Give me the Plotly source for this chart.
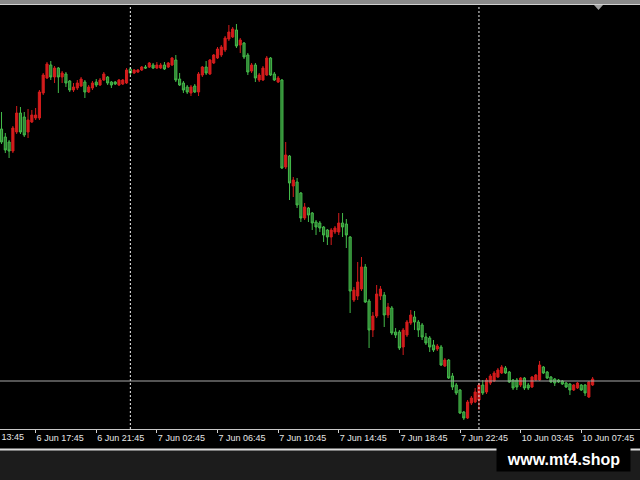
import plotly.graph_objects as go

# ---------------- data (XAUUSD, M15) ----------------
bar_index = list(range(157))

opens = [
    2367.75, 2365.75, 2364.5, 2362.25, 2367, 2371.75, 2370.75, 2367, 2369.5, 2370.5,
    2370.5, 2376.75, 2380.5, 2383.75, 2380.75, 2383, 2380.75, 2381.5, 2379.75, 2377.5,
    2378, 2378.5, 2379.5, 2377, 2378, 2379.5, 2378.75, 2380, 2380.75, 2379.5,
    2379.5, 2378.75, 2379, 2379.25, 2382.75, 2381.75, 2382, 2382.5, 2383.25, 2383.25,
    2383.75, 2383, 2383, 2383.75, 2383.25, 2383.75, 2385, 2380.25, 2379.25, 2378.25,
    2376.75, 2378.5, 2377, 2381.25, 2383.25, 2381.5, 2384.25, 2385.5, 2386.25, 2387.5,
    2390.25, 2390.75, 2392.5, 2388.75, 2389.25, 2386.25, 2382.25, 2383.75, 2380, 2380,
    2381.25, 2385.5, 2381.5, 2379.5, 2380, 2358.25, 2361, 2353.5, 2354.5, 2351.75,
    2345.5, 2348, 2346.75, 2344.5, 2344.25, 2343.25, 2342.5, 2340.75, 2342, 2342,
    2344.25, 2344, 2340.75, 2325, 2326, 2327.75, 2333.25, 2324.75, 2317.5, 2321,
    2326, 2326.25, 2321.25, 2323, 2317, 2317, 2313.25, 2316.25, 2319.25, 2320.75,
    2319.5, 2318.75, 2315.75, 2315.5, 2313.75, 2312.75, 2313.25, 2308.5, 2310, 2306,
    2303.75, 2302.5, 2297, 2295.5, 2299.25, 2299.5, 2300, 2303.75, 2302, 2304.25,
    2304.75, 2305.75, 2306.75, 2308, 2307, 2305, 2305, 2303.75, 2305.5, 2303.75,
    2303.25, 2305, 2305, 2308.25, 2307, 2305.75, 2305.25, 2305, 2304.75, 2304.25,
    2304, 2302.5, 2303, 2303.75, 2303.75, 2300.75, 2303.75,
]

highs = [
    2372, 2366.75, 2365, 2368.5, 2373.5, 2373.25, 2372, 2372.75, 2372.5, 2373,
    2377.5, 2381.75, 2384.5, 2384.75, 2383.5, 2383.25, 2382.25, 2382, 2380, 2379.25,
    2380, 2380.75, 2380, 2378.75, 2379.75, 2380.25, 2380.5, 2382, 2381, 2379.75,
    2379.75, 2380.25, 2380.25, 2383, 2383.25, 2382.75, 2382.75, 2383.5, 2383.75, 2384.5,
    2384.25, 2384.5, 2384.25, 2384.5, 2384.5, 2385.75, 2386.25, 2381.75, 2379.75, 2378.75,
    2378.75, 2379, 2382, 2383.5, 2384.75, 2385.25, 2386.5, 2388.25, 2388.75, 2391,
    2393.75, 2393.25, 2394, 2390.5, 2389.5, 2386.75, 2384.25, 2384.25, 2381.75, 2383.5,
    2386, 2385.75, 2382, 2381, 2380.25, 2364.5, 2361.25, 2355.75, 2355.5, 2352,
    2349.25, 2348.25, 2347, 2345, 2344.75, 2343.5, 2342.75, 2343, 2343.5, 2346.75,
    2346.75, 2345.25, 2341, 2328.25, 2334.5, 2335.75, 2334, 2325.25, 2322, 2328.75,
    2328.5, 2327, 2324.25, 2323.5, 2318, 2317.5, 2318, 2320, 2322.5, 2322.25,
    2320, 2319.25, 2316.75, 2316, 2315, 2314, 2313.75, 2310.5, 2310.25, 2306.75,
    2304.25, 2302.75, 2297.25, 2300, 2301, 2303, 2304.25, 2305, 2305.5, 2306.5,
    2307.25, 2308, 2308.75, 2308.5, 2307.25, 2305.25, 2305.5, 2305.75, 2305.75, 2304.25,
    2306, 2306.5, 2309.75, 2308.5, 2307.25, 2306, 2305.5, 2305.25, 2305, 2304.5,
    2304.25, 2304, 2304.5, 2304, 2304, 2304.75, 2305.75,
]

lows = [
    2364, 2361.75, 2360.5, 2361.75, 2366.5, 2366.5, 2365.75, 2365.5, 2369.25, 2370,
    2370, 2376.25, 2380.25, 2380, 2379.25, 2376.75, 2379.25, 2378.25, 2377, 2377,
    2377.5, 2378.25, 2375.5, 2376.75, 2377.5, 2378.25, 2378.5, 2379.75, 2378.75, 2378,
    2378.75, 2378.5, 2378.75, 2379, 2381.25, 2381.5, 2381.75, 2382.25, 2382.75, 2383,
    2382.75, 2382.75, 2382.75, 2382.5, 2383, 2383.5, 2379.5, 2378.5, 2376.75, 2376.5,
    2376, 2376.75, 2376, 2380.75, 2381.25, 2381.25, 2384, 2385.25, 2385.75, 2387,
    2389.75, 2390.5, 2388, 2386.75, 2385.25, 2381.25, 2381.75, 2379.5, 2379.5, 2379.75,
    2381, 2381, 2379.75, 2379.25, 2357.75, 2357.75, 2350, 2350.75, 2348, 2344.5,
    2345, 2344.5, 2342.5, 2341.25, 2342, 2339.5, 2338.75, 2338.75, 2341.5, 2341.25,
    2340.75, 2338, 2321.75, 2324.5, 2325, 2327.25, 2324.25, 2313, 2315.75, 2320.5,
    2325, 2318.25, 2320.5, 2316.25, 2315.5, 2312.5, 2311.25, 2315.75, 2318.75, 2317.5,
    2315.75, 2315, 2313.75, 2312, 2312, 2312.25, 2308.5, 2308.25, 2305.25, 2302.5,
    2301.25, 2296.5, 2295, 2295.25, 2298.75, 2299.25, 2297.5, 2301.25, 2301.5, 2303.75,
    2304.5, 2305.5, 2306.5, 2306.5, 2304.25, 2302.5, 2302.5, 2303.25, 2302.5, 2302.5,
    2303, 2304.75, 2304.75, 2306.5, 2305.25, 2304.25, 2303.5, 2304.25, 2303.75, 2303,
    2301.25, 2302.25, 2302.75, 2302.25, 2301, 2300.5, 2303.5,
]

closes = [
    2364.5, 2362.5, 2362.25, 2368, 2371.75, 2367, 2366.25, 2370, 2371.25, 2371.25,
    2377, 2381.25, 2384, 2380.75, 2383, 2380.75, 2381.75, 2379.25, 2377.5, 2378.25,
    2379.25, 2380.25, 2377, 2378.25, 2379.25, 2378.75, 2380, 2381.5, 2379.25, 2378.75,
    2379, 2380, 2380, 2382.5, 2381.75, 2382.5, 2382.5, 2383.25, 2383, 2384.25,
    2383, 2383.75, 2383.75, 2382.75, 2384.25, 2385.5, 2380, 2378.75, 2377.5, 2377,
    2378.25, 2377, 2381.5, 2383.25, 2381.75, 2385, 2386.25, 2387.75, 2388.25, 2390.5,
    2392, 2392.75, 2388.5, 2390, 2385.75, 2382, 2383.75, 2380.5, 2381.25, 2383,
    2385.5, 2381.25, 2380, 2380.5, 2358, 2361.25, 2354.25, 2355, 2348.75, 2345.5,
    2348.25, 2346.25, 2344.25, 2343.25, 2343, 2341.25, 2340.75, 2342.5, 2343, 2344.25,
    2343.25, 2341.25, 2327.25, 2327.5, 2329.5, 2333.25, 2324.5, 2317.5, 2321, 2326.5,
    2327.75, 2321.25, 2323.25, 2316.75, 2316.25, 2313, 2317.5, 2319.5, 2321.25, 2319.5,
    2317.5, 2315.75, 2314.25, 2313.25, 2312.5, 2313.5, 2308.75, 2310, 2305.5, 2303.25,
    2301.75, 2296.75, 2295.5, 2299.5, 2300.5, 2302, 2303.75, 2301.75, 2305, 2306,
    2306.75, 2307.5, 2308.25, 2306.75, 2304.5, 2303, 2303.25, 2305.5, 2303, 2303,
    2305.75, 2306.25, 2308.75, 2306.75, 2305.5, 2304.5, 2304.25, 2304.5, 2304, 2303.25,
    2302.5, 2303.75, 2304.25, 2302.5, 2301.75, 2304.5, 2305.25,
]

tick_index = [9, 25, 41, 57, 73, 89, 105, 121, 137, 153]
tick_labels = ["6 Jun 17:45", "6 Jun 21:45", "7 Jun 02:45", "7 Jun 06:45",
               "7 Jun 10:45", "7 Jun 14:45", "7 Jun 18:45", "7 Jun 22:45",
               "10 Jun 03:45", "10 Jun 07:45"]
clipped_tick_index = -7
clipped_tick_label = "6 Jun 13:45"

day_separators = [34, 126]      # first bars of 7 Jun and 10 Jun
bid_price = 2304.75

# ---------------- layout constants ----------------
W, H = 640, 480
PLOT_TOP, PLOT_BOTTOM = 5, 429
PLOT_H = PLOT_BOTTOM - PLOT_TOP
x_range = [-0.4, 168.5]
y_range = [2292.75, 2398.75]

UP_RED = "#d41c1c"
DOWN_GREEN = "#44bb4a"
DOWN_FILL = "#2f7a33"
LABEL_FONT = dict(family="Liberation Sans", size=9, color="#e8e8e8")


def py(pix):
    """pixel row -> paper y"""
    return (PLOT_BOTTOM - pix) / PLOT_H


def px(pix):
    return pix / W


fig = go.Figure()
fig.add_trace(go.Candlestick(
    x=bar_index, open=opens, high=highs, low=lows, close=closes,
    increasing=dict(line=dict(color=UP_RED, width=1), fillcolor=UP_RED),
    decreasing=dict(line=dict(color=DOWN_GREEN, width=1), fillcolor=DOWN_FILL),
    whiskerwidth=0, hoverinfo="skip", showlegend=False,
))

shapes = []
for s in day_separators:
    shapes.append(dict(type="line", xref="x", yref="paper", x0=s, x1=s, y0=0, y1=1,
                       line=dict(color="#f0f0f0", width=1, dash="2px,2px")))
shapes.append(dict(type="line", xref="paper", yref="y", x0=0, x1=1, y0=bid_price, y1=bid_price,
                   line=dict(color="#a8a8a8", width=1)))
# top frame band
shapes.append(dict(type="rect", xref="paper", yref="paper", x0=0, x1=1, y0=py(4), y1=py(-2),
                   fillcolor="#8a8a8a", line=dict(width=0), layer="above"))
shapes.append(dict(type="line", xref="paper", yref="paper", x0=0, x1=1, y0=py(4.5), y1=py(4.5),
                   line=dict(color="#d0d0d0", width=1), layer="above"))
# shift marker triangle
tx0, tx1, txm = px(594), px(603), px(598.5)
ty0, ty1 = py(5), py(10)
shapes.append(dict(type="path", xref="paper", yref="paper",
                   path=f"M {tx0},{ty0} L {tx1},{ty0} L {txm},{ty1} Z",
                   fillcolor="#a0a0a0", line=dict(width=0), layer="above"))
# bottom panel
shapes.append(dict(type="rect", xref="paper", yref="paper", x0=0, x1=1, y0=py(490), y1=py(450),
                   fillcolor="#1c1c1c", line=dict(width=0), layer="above"))
shapes.append(dict(type="line", xref="paper", yref="paper", x0=0, x1=1, y0=py(449.5), y1=py(449.5),
                   line=dict(color="#dcdcdc", width=2), layer="above"))

annotations = [
    dict(xref="paper", yref="paper",
         x=(clipped_tick_index - x_range[0]) / (x_range[1] - x_range[0]), y=py(437),
         text=clipped_tick_label, showarrow=False, xanchor="left", yanchor="middle",
         font=LABEL_FONT),
    dict(xref="paper", yref="paper", x=px(563), y=py(459),
         text="<b>www.mt4.shop</b>", showarrow=False, xanchor="center", yanchor="middle",
         width=131, height=22, bgcolor="#000000",
         font=dict(family="Liberation Sans", size=16, color="#ffffff")),
]

fig.update_layout(
    width=W, height=H,
    margin=dict(l=0, r=0, t=PLOT_TOP, b=H - PLOT_BOTTOM, pad=0, autoexpand=False),
    paper_bgcolor="#000000", plot_bgcolor="#000000",
    boxgap=0.2,
    shapes=shapes, annotations=annotations,
    xaxis=dict(range=x_range, type="linear", rangeslider=dict(visible=False),
               showgrid=False, zeroline=False, automargin=False,
               tickmode="array", tickvals=tick_index, ticktext=tick_labels,
               tickangle=0,
               ticks="outside", ticklen=3, tickcolor="#d0d0d0",
               ticklabelposition="outside right",
               tickfont=LABEL_FONT,
               showline=True, linecolor="#c8c8c8", linewidth=1),
    yaxis=dict(range=y_range, showgrid=False, zeroline=False, showticklabels=False,
               ticks="", automargin=False),
)

fig.write_html(
    "out.html",
    config={"displayModeBar": False},
    post_script="document.body.style.margin='0';document.body.style.padding='0';"
                "document.body.style.background='#000';",
)
